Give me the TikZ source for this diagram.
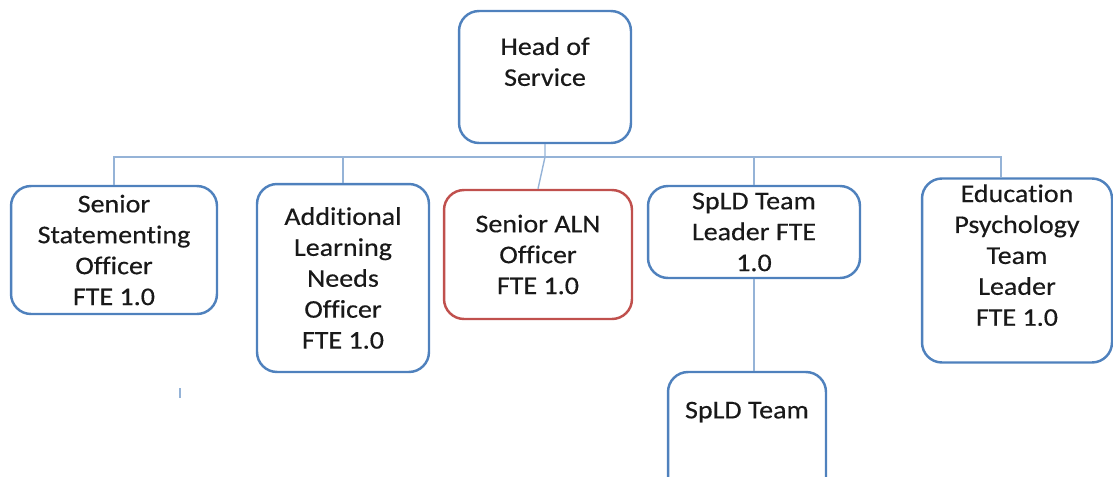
\documentclass[tikz,border=0pt]{standalone}
\usepackage{fontspec}
\setmainfont{Carlito}[FakeStretch=1.1, FakeBold=0.4, RawFeature=-liga]
\usepackage{tikz}
\usetikzlibrary{calc}

\definecolor{boxblue}{RGB}{79,129,189}
\definecolor{boxred}{RGB}{192,80,77}
\definecolor{linkblue}{RGB}{149,179,215}

\begin{document}
\begin{tikzpicture}[x=0.02cm, y=-0.02cm,
						every node/.style={draw=boxblue, line width=1.4pt, rounded corners=0.4cm,
							align=center, text=black!90, font=\fontsize{14.5}{17.6}\selectfont},
						link/.style={draw=linkblue, line width=0.8pt}]
					\useasboundingbox (0,0) rectangle (1113,477);

					\node[minimum width=3.44cm, minimum height=2.64cm] (head) at (545,77) {Head of\\Service\\~};
					\node[minimum width=4.12cm, minimum height=2.56cm] (stmt) at (114,250) {Senior\\Statementing\\Officer\\FTE 1.0};
					\node[minimum width=3.44cm, minimum height=3.76cm] (alno) at (343,278) {Additional\\Learning\\Needs\\Officer\\FTE 1.0};
					\node[draw=boxred, minimum width=3.76cm, minimum height=2.58cm] (saln) at (538,254.5) {Senior ALN\\Officer\\FTE 1.0};
					\node[minimum width=4.24cm, minimum height=1.84cm] (spldtl) at (754,232) {SpLD Team\\Leader FTE\\1.0};
					\node[minimum width=3.8cm, minimum height=3.5cm] (edu) at (1017,270.5) {Education\\Psychology\\Team\\Leader\\FTE 1.0\\~};
					\node[minimum width=3.16cm, minimum height=2.76cm] (spld) at (747,441) {SpLD Team\\~\\~};

					\coordinate (bus) at (545,157);
					\coordinate (tick) at (180,388);

					\path [link] (stmt.north) |- (bus) -| ([xshift=-0.32cm]edu.north);
					\path [link] (alno.north) -- (alno.north |- bus);
					\path [link] (head.south) -- (bus) -- (saln.north);
					\path [link] (spldtl.north) -- (spldtl.north |- bus);
					\path [link] (spldtl.south) -- (spldtl.south |- spld.north);
					\path [link] (tick) -- ++(0,10);
				\end{tikzpicture}
\end{document}
